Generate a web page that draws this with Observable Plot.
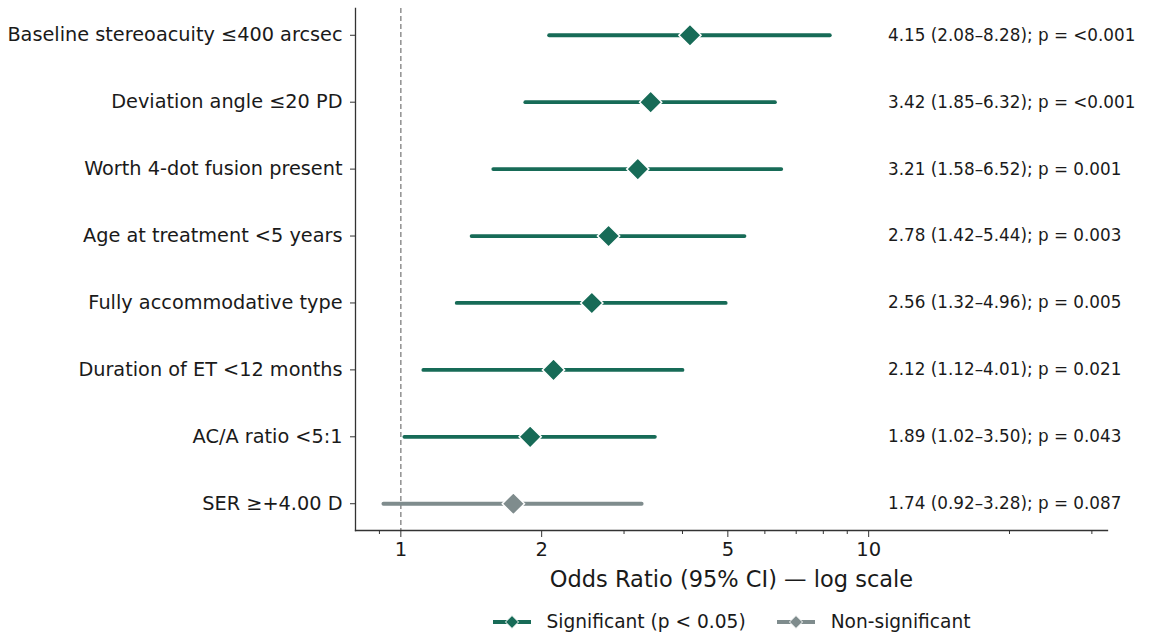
<!DOCTYPE html>
<html>
<head>
<meta charset="utf-8">
<script src="https://cdn.jsdelivr.net/npm/d3@7"></script>
<script src="https://cdn.jsdelivr.net/npm/@observablehq/plot@0.6"></script>
<style>
  body { margin: 0; background: #fff; font-family: "DejaVu Sans", sans-serif; color: #1a1a1a; }
  #chart { position: relative; width: 1158px; }
  .legend { display: flex; justify-content: center; align-items: center; gap: 30px;
            margin-left: 355px; margin-right: 51px; font-size: 18.6px; margin-top: 9px; }
  .legend .item { display: flex; align-items: center; gap: 15px; }
  .legend svg { display: block; }
</style>
</head>
<body>
<div id="chart"></div>
<script>
const labels = [
  "Baseline stereoacuity ≤400 arcsec",
  "Deviation angle ≤20 PD",
  "Worth 4-dot fusion present",
  "Age at treatment <5 years",
  "Fully accommodative type",
  "Duration of ET <12 months",
  "AC/A ratio <5:1",
  "SER ≥+4.00 D"
];
const orValues = [4.15, 3.42, 3.21, 2.78, 2.56, 2.12, 1.89, 1.74];
const loValues = [2.08, 1.85, 1.58, 1.42, 1.32, 1.12, 1.02, 0.92];
const hiValues = [8.28, 6.32, 6.52, 5.44, 4.96, 4.01, 3.50, 3.28];
const pLabels  = ["<0.001", "<0.001", "0.001", "0.003", "0.005", "0.021", "0.043", "0.087"];
const significant = [true, true, true, true, true, true, true, false];
const majorTicks = [1, 2, 5, 10];
const minorTicks = [0.9, 3, 4, 6, 7, 8, 9, 20, 30];
const annotationX = 11;
const xDomain = [0.8, 32.4];

const SIG = "#176b57", NONSIG = "#7f8c8d", INK = "#1a1a1a", SPINE = "#333";

const rows = labels.map((label, i) => ({
  label, or: orValues[i], lo: loValues[i], hi: hiValues[i], p: pLabels[i], sig: significant[i],
  text: `${orValues[i].toFixed(2)} (${loValues[i].toFixed(2)}–${hiValues[i].toFixed(2)}); p = ${pLabels[i]}`
}));
const sigRows = rows.filter(d => d.sig);
const nsRows = rows.filter(d => !d.sig);

const plot = Plot.plot({
  width: 1158,
  height: 602,
  marginLeft: 355,
  marginRight: 51,
  marginTop: 8,
  marginBottom: 72,
  style: { fontFamily: "DejaVu Sans, sans-serif", fontSize: "19px", color: INK, background: "white" },
  x: { type: "log", domain: xDomain },
  y: { type: "point", domain: labels, padding: 0.4, round: false },
  marks: [
    Plot.ruleX([1], { stroke: "#888", strokeDasharray: "5,3", strokeWidth: 1.4 }),
    Plot.ruleY(sigRows, { y: "label", x1: "lo", x2: "hi", stroke: SIG, strokeWidth: 3.8, strokeLinecap: "round" }),
    Plot.ruleY(nsRows, { y: "label", x1: "lo", x2: "hi", stroke: NONSIG, strokeWidth: 3.8, strokeLinecap: "round" }),
    Plot.dot(sigRows, { x: "or", y: "label", symbol: "diamond2", r: 10, fill: SIG, stroke: "white", strokeWidth: 1.5 }),
    Plot.dot(nsRows, { x: "or", y: "label", symbol: "diamond2", r: 10, fill: NONSIG, stroke: "white", strokeWidth: 1.5 }),
    Plot.text(rows, { x: () => annotationX, y: "label", text: "text", textAnchor: "start", fontSize: 16.8, fill: INK }),
    Plot.frame({ anchor: "left", stroke: SPINE, strokeWidth: 1.3 }),
    Plot.frame({ anchor: "bottom", stroke: SPINE, strokeWidth: 1.3 }),
    Plot.axisY({ tickSize: 5, tickPadding: 8, fontSize: 19.3, label: null, stroke: SPINE, fill: INK }),
    Plot.axisX({ ticks: majorTicks, tickSize: 7, tickPadding: 5, fontSize: 19.5, label: null, tickFormat: d => String(d), stroke: SPINE, fill: INK }),
    Plot.axisX({ ticks: minorTicks, tickSize: 4, tickFormat: () => "", label: null, stroke: SPINE }),
    Plot.text(["Odds Ratio (95% CI) — log scale"], { frameAnchor: "bottom", dy: 56, fontSize: 22.5, fill: INK })
  ]
});
document.getElementById("chart").appendChild(plot);

function legendItem(color, text) {
  const item = document.createElement("div");
  item.className = "item";
  item.innerHTML = `<svg width="40" height="16"><line x1="1" y1="8" x2="39" y2="8" stroke="${color}" stroke-width="3.8"/>` +
    `<path d="M20,1.5 L26.5,8 L20,14.5 L13.5,8 Z" fill="${color}" stroke="white" stroke-width="1"/></svg><span>${text}</span>`;
  return item;
}
const legend = document.createElement("div");
legend.className = "legend";
legend.appendChild(legendItem(SIG, "Significant (p &lt; 0.05)"));
legend.appendChild(legendItem(NONSIG, "Non-significant"));
document.getElementById("chart").appendChild(legend);
</script>
</body>
</html>
